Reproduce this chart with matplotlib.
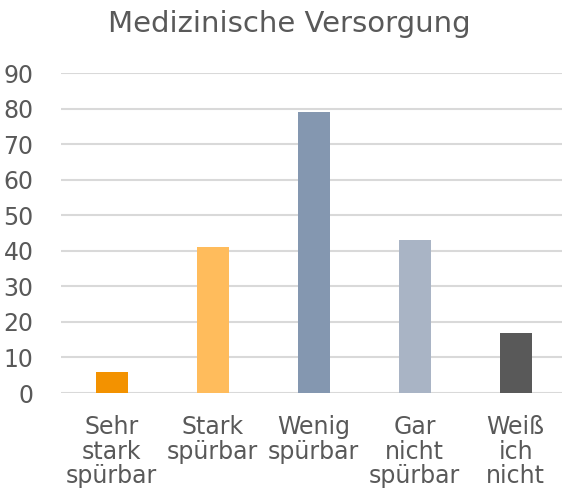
import matplotlib
matplotlib.use('Agg')
import matplotlib.pyplot as plt

# Daten
kategorien = ['Sehr\nstark\nspürbar', 'Stark\nspürbar', 'Wenig\nspürbar', 'Gar\nnicht\nspürbar', 'Weiß\nich\nnicht']
werte = [6, 41, 79, 43, 17]
farben = ['#F39200', '#FFBC5C', '#8497B0', '#A9B4C5', '#595959']

textfarbe = '#595959'

fig = plt.figure(figsize=(5.62, 4.95), dpi=100)
ax = fig.add_axes([0.109, 0.206, 505 / 562, 0.6465])

x = range(len(werte))
ax.bar(x, werte, width=0.32, color=farben, zorder=3)

ax.set_xlim(-0.5, 4.5)
ax.set_ylim(0, 90)
ax.set_yticks(range(0, 91, 10))
ax.set_xticks(list(x))
ax.set_xticklabels(kategorien, fontsize=17, color=textfarbe, linespacing=1.03)
ax.tick_params(axis='y', labelsize=17, labelcolor=textfarbe, length=0, pad=20)
ax.tick_params(axis='x', length=0, pad=16)

ax.grid(axis='y', color='#D9D9D9', linewidth=1.5, zorder=0)
for s in ax.spines.values():
    s.set_visible(False)

fig.text(0.515, 0.951, 'Medizinische Versorgung', ha='center', va='center',
         fontsize=21, color=textfarbe)

fig.savefig('out.png', dpi=100)
